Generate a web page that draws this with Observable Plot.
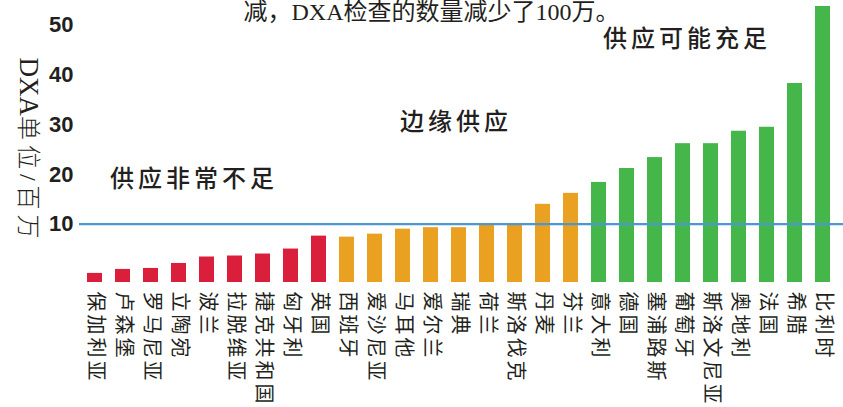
<!DOCTYPE html>
<html><head><meta charset="utf-8">
<script src="https://cdn.jsdelivr.net/npm/d3@7"></script>
<script src="https://cdn.jsdelivr.net/npm/@observablehq/plot@0.6"></script>
<style>
html,body{margin:0;padding:0;background:#fff;}
#chart svg{display:block;}
</style></head><body><div id="chart"></div>
<script>
const countries = ["保加利亚","卢森堡","罗马尼亚","立陶宛","波兰","拉脱维亚","捷克共和国","匈牙利","英国",
  "西班牙","爱沙尼亚","马耳他","爱尔兰","瑞典","荷兰","斯洛伐克","丹麦","芬兰",
  "意大利","德国","塞浦路斯","葡萄牙","斯洛文尼亚","奥地利","法国","希腊","比利时"];
const values = [0.1, 0.9, 1.1, 2.1, 3.4, 3.6, 4.0, 5.0, 7.6,
  7.4, 8.0, 9.0, 9.3, 9.3, 10.0, 10.0, 14.0, 16.2,
  18.4, 21.2, 23.4, 26.2, 26.2, 28.7, 29.5, 38.3, 53.8];
const groupNames = ["供应非常不足","边缘供应","供应可能充足"];
const supplyGroup = [0,0,0,0,0,0,0,0,0, 1,1,1,1,1,1,1,1,1, 2,2,2,2,2,2,2,2,2].map(i => groupNames[i]);
const groupColors = ["#da1f3c","#eaa121","#45b74a"];
const yTicks = [10,20,30,40,50];
const threshold = [10];
const yFloor = -1.73;
const yTop = 55;
const yLabelLatin = "DXA";
const yLabelCjk = "单位/百万";
const yLabel = yLabelLatin + yLabelCjk;
const caption = "减，DXA检查的数量减少了100万。";
const annotationTexts = ["供应非常不足","边缘供应","供应可能充足"];
const annotationAnchors = ["保加利亚","马耳他","意大利"];
const annotationValues = [19.0, 30.5, 47.2];

const rows = countries.map((c,i)=>({country:c, value:values[i], group:supplyGroup[i]}));
const ann = annotationTexts.map((t,i)=>({text:t, country:annotationAnchors[i], value:annotationValues[i]}));

const cjkSerif = "'Liberation Serif','Noto Sans CJK SC',serif";
const cjk = "'Noto Sans CJK SC',sans-serif";
const ink = "#231f20";

const chart = Plot.plot({
  width: 843, height: 407,
  marginLeft: 79, marginRight: 0, marginTop: 0, marginBottom: 125,
  x: {domain: countries, paddingInner: 0.4643, paddingOuter: 0.375, align: 0.381, axis: null},
  y: {domain: [yFloor, yTop], axis: null},
  color: {domain: groupNames, range: groupColors},
  marks: [
    Plot.barY(rows, {x:"country", y1: () => yFloor, y2:"value", fill:"group"}),
    Plot.ruleY(threshold, {stroke:"#4a97d2", strokeWidth:2.2}),
    Plot.axisY({ticks: yTicks, tickSize:0, tickPadding:6, label:null, fontSize:22, fontWeight:"bold", fontFamily:"'Liberation Sans',Arial,sans-serif", fill: ink}),
    Plot.text(countries, {x: d=>d, frameAnchor:"bottom", rotate:90, textAnchor:"start", lineAnchor:"middle", dy:9, fontSize:20, fontFamily:cjk, fill:ink}),
    Plot.text([ann[0]], {x:"country", y:"value", text:"text", textAnchor:"start", dx:15, fontSize:24, fontWeight:500, fontFamily:cjk, fill:ink}),
    Plot.text([ann[1]], {x:"country", y:"value", text:"text", textAnchor:"start", dx:-3, fontSize:24, fontWeight:500, fontFamily:cjk, fill:ink}),
    Plot.text([ann[2]], {x:"country", y:"value", text:"text", textAnchor:"start", dx:4, fontSize:24, fontWeight:500, fontFamily:cjk, fill:ink}),
    Plot.text([yLabel], {frameAnchor:"left", rotate:90, dx:-52, dy:9, textAnchor:"middle", lineAnchor:"middle", fontSize:24, fontFamily:cjkSerif, fill:ink}),
    Plot.text([caption], {frameAnchor:"top-left", dx:243-79, dy:2, textAnchor:"start", lineAnchor:"top", fontSize:24, fontFamily:cjkSerif, fill:ink})
  ]
});
document.getElementById("chart").appendChild(chart);
const svg = d3.select(chart);
svg.selectAll("text").filter(function(){return countries.includes(this.textContent);}).style("letter-spacing","3px");
svg.selectAll("text").filter(function(){return annotationTexts.includes(this.textContent);}).style("letter-spacing","4px");
svg.selectAll("text").filter(function(){return this.textContent === yLabel;}).each(function(){
  const t = d3.select(this);
  t.text(null);
  t.append("tspan").attr("font-size", 27).text(yLabelLatin);
  t.append("tspan").style("letter-spacing","5px").attr("font-weight", 300).text(yLabelCjk);
});
</script></body></html>
